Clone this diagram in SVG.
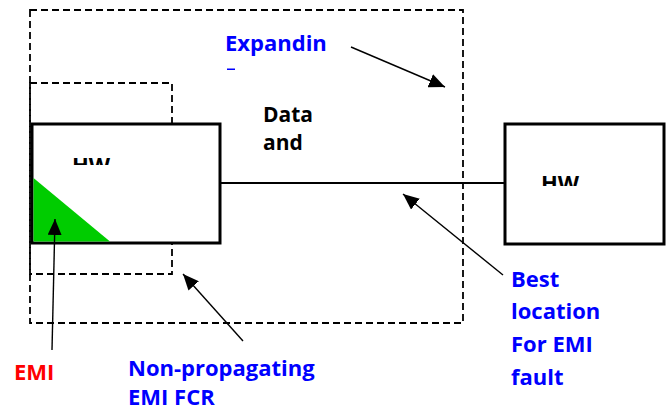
<svg xmlns="http://www.w3.org/2000/svg" width="670" height="411" viewBox="0 0 670 411">
  <style>
    .frame { fill: none; stroke: #000; stroke-width: 1.8; stroke-dasharray: 7 4; }
    .hw { fill: #fff; stroke: #000; stroke-width: 3; }
    .link { fill: none; stroke: #000; stroke-width: 2; }
    .pointer { fill: none; stroke: #000; stroke-width: 1.4; marker-end: url(#tip); }
    .lbl { font-family: "Open Sans", "Liberation Sans", sans-serif; font-weight: bold; font-size: 22px; }
    .blue { fill: #0000ff; }
    .red { fill: #ff0000; }
    .black { fill: #000; }
  </style>
  <defs>
    <marker id="tip" markerUnits="userSpaceOnUse" markerWidth="18" markerHeight="14" refX="16" refY="7" orient="auto">
      <path d="M0,0 L16,7 L0,14 Z" fill="#000"/>
    </marker>
    <clipPath id="clipHwA"><rect x="32" y="124" width="188" height="41"/></clipPath>
    <clipPath id="clipHwB"><rect x="505" y="124" width="159" height="62"/></clipPath>
  </defs>

  <!-- expanding fault containment region -->
  <g id="expanding-region">
    <rect class="frame" x="30" y="10" width="433" height="313"/>
  </g>

  <!-- non-propagating fault containment region -->
  <g id="nonprop-region">
    <rect class="frame" x="30" y="83" width="142" height="191"/>
  </g>

  <!-- left hardware node with EMI corner -->
  <g id="hw-left">
    <rect class="hw" x="32" y="124" width="188" height="119"/>
    <polygon points="33.5,178 33.5,241.5 110,241.5" fill="#00cc00"/>
    <text class="lbl black" x="72" y="173" clip-path="url(#clipHwA)">HW</text>
  </g>

  <!-- right hardware node -->
  <g id="hw-right">
    <rect class="hw" x="505" y="124" width="159" height="120"/>
    <text class="lbl black" x="541" y="191" clip-path="url(#clipHwB)">HW</text>
  </g>

  <!-- connectors -->
  <g id="connectors">
    <line class="link" x1="220" y1="183" x2="505" y2="183"/>
    <line class="pointer" x1="351" y1="47" x2="445" y2="87"/>
    <line class="pointer" x1="503" y1="275" x2="403" y2="194"/>
    <line class="pointer" x1="243" y1="341" x2="183" y2="274"/>
    <line class="pointer" x1="52" y1="350" x2="55" y2="219"/>
  </g>

  <!-- labels -->
  <g id="label-expanding">
    <text class="lbl blue" x="225" y="51">Expandin</text>
    <rect x="227" y="68.5" width="8" height="1.5" fill="#0000ff"/>
  </g>
  <g id="label-data">
    <text class="lbl black" x="263" y="122" style="font-size:21px">Data<tspan x="263" dy="28">and</tspan></text>
  </g>
  <g id="label-emi">
    <text class="lbl red" x="14" y="380">EMI</text>
  </g>
  <g id="label-nonprop">
    <text class="lbl blue" x="128" y="376">Non-propagating<tspan x="128" dy="29">EMI FCR</tspan></text>
  </g>
  <g id="label-best">
    <text class="lbl blue" x="511" y="287">Best<tspan x="511" dy="32">location</tspan><tspan x="511" dy="33">For EMI</tspan><tspan x="511" dy="33">fault</tspan></text>
  </g>
</svg>
